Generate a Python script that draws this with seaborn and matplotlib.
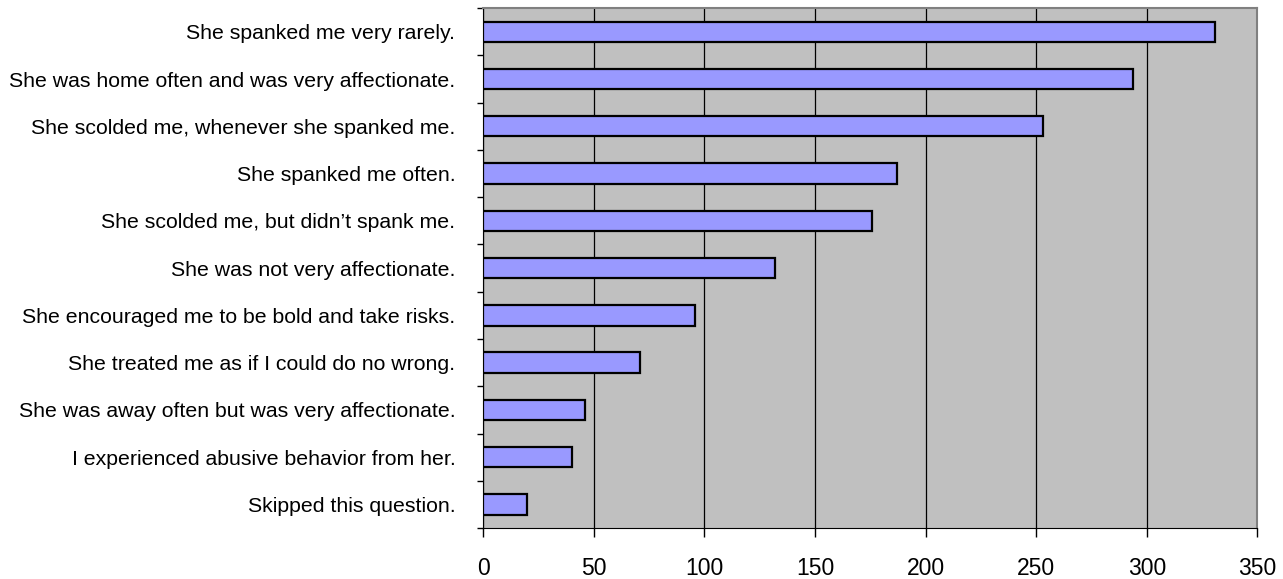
import pandas as pd
import seaborn as sns
import numpy as np
import matplotlib.pyplot as plt
from matplotlib.ticker import FixedLocator

# survey answers, top to bottom as in the chart
answers = [
    "She spanked me very rarely.",
    "She was home often and was very affectionate.",
    "She scolded me, whenever she spanked me.",
    "She spanked me often.",
    "She scolded me, but didn\u2019t spank me.",
    "She was not very affectionate.",
    "She encouraged me to be bold and take risks.",
    "She treated me as if I could do no wrong.",
    "She was away often but was very affectionate.",
    "I experienced abusive behavior from her.",
    "Skipped this question.",
]
counts = [331, 294, 253, 187, 176, 132, 96, 71, 46, 40, 20]
xticks = [0, 50, 100, 150, 200, 250, 300, 350]

df = pd.DataFrame({"answer": answers, "count": counts})

sns.set_style("white")
plt.rcParams['font.family'] = ['Liberation Sans', 'DejaVu Sans']
plt.rcParams['text.color'] = 'black'
plt.rcParams['xtick.color'] = 'black'
plt.rcParams['ytick.color'] = 'black'

fig = plt.figure(figsize=(12.83, 5.79), dpi=100)
ax = fig.add_axes([0.3765, 0.088, 0.6035, 0.898])
ax.set_facecolor("#C0C0C0")

sns.barplot(data=df, x="count", y="answer", orient="h", color="#9999FF",
            edgecolor="black", linewidth=1.6, width=0.43, saturation=1, ax=ax, zorder=3)

ax.set_xlim(0, 350)
ax.set_ylim(len(answers) - 0.5, -0.5)
ax.set_xticks(xticks)
ax.xaxis.grid(True, color="black", linewidth=0.9, zorder=1)
ax.set_axisbelow(True)
ax.set_xlabel("")
ax.set_ylabel("")

# Excel style tick marks between the categories
ax.yaxis.set_minor_locator(FixedLocator(np.arange(-0.5, len(answers), 1)))
ax.tick_params(axis="y", which="major", length=0, pad=20, labelsize=15.3)
ax.tick_params(axis="y", which="minor", length=4, width=1, color="black", left=True)
ax.tick_params(axis="x", which="major", length=6.5, width=1, color="black", bottom=True,
               pad=14, labelsize=16.5)

for side in ["top", "right"]:
    ax.spines[side].set_color("#808080")
    ax.spines[side].set_linewidth(1.5)
ax.spines["left"].set_color("black")
ax.spines["bottom"].set_color("black")

plt.savefig("out.png", dpi=100)
